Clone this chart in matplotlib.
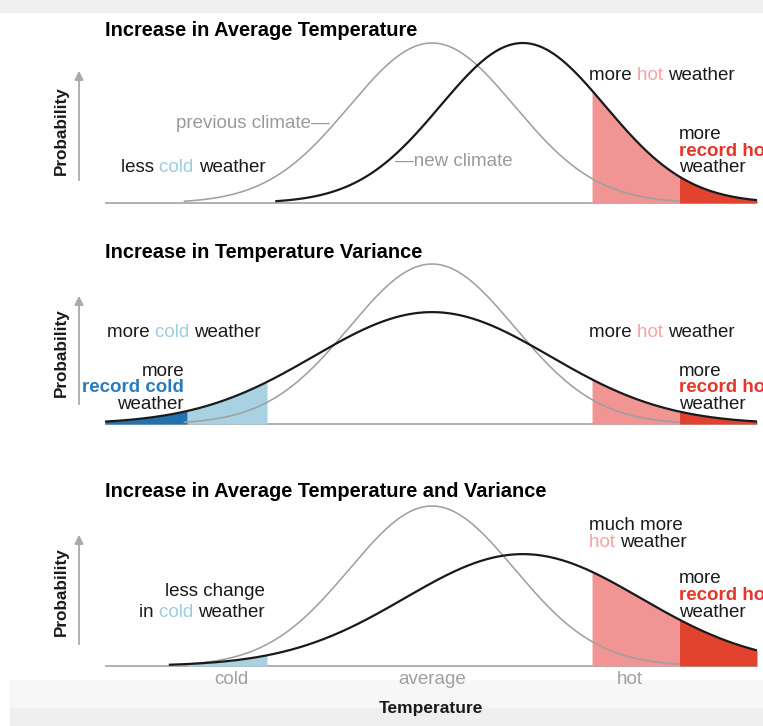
import numpy as np
import matplotlib
matplotlib.use("Agg")
import matplotlib.pyplot as plt
from matplotlib.transforms import IdentityTransform
from matplotlib.patches import Rectangle, FancyArrowPatch

plt.rcParams['font.family'] = ['Liberation Sans', 'DejaVu Sans']

# ---------------- data ----------------
panel_titles = ["Increase in Average Temperature",
                "Increase in Temperature Variance",
                "Increase in Average Temperature and Variance"]
prev_mean = 0.0
prev_sd = 1.0
new_means = [1.1, 0.0, 1.1]
new_sds = [1.0, 1.43, 1.43]
record_cold_thr = -2.97
cold_thr = -2.0
hot_thr = 1.94
record_hot_thr = 3.0
tick_positions = [-2.43, 0.0, 2.4]
tick_labels = ["cold", "average", "hot"]
x_label = "Temperature"
y_label = "Probability"

# ---------------- styling ----------------
W, H = 763, 726
DARK = '#1a1a1a'
GRAY_TXT = '#9a9a9a'
COLD_TXT = '#9ccde0'
HOT_TXT = '#f4a3a3'
REC_HOT_TXT = '#e8352b'
REC_COLD_TXT = '#2b7bbb'
PINK = '#f09494'
RED = '#e2432f'
LBLUE = '#a8d2e2'
DBLUE = '#2271b1'
CURVE_SPAN = 3.0   # curves are drawn over mean +/- 3 sd

fig = plt.figure(figsize=(W / 100, H / 100), dpi=100)
fig.patch.set_facecolor('white')
# background bands
fig.patches.append(Rectangle((0, 1 - 12 / H), 1, 12 / H, transform=fig.transFigure,
                             color='#f0f0f0', zorder=-5))
fig.patches.append(Rectangle((10 / W, 0), 1, (H - 680) / H, transform=fig.transFigure,
                             color='#f7f7f7', zorder=-5))
fig.patches.append(Rectangle((10 / W, 0), 1, (H - 708) / H, transform=fig.transFigure,
                             color='#efefef', zorder=-4))

IDT = IdentityTransform()
renderer = fig.canvas.get_renderer()


def ftext(x, y, s, **kw):
    return fig.text(x, H - y, s, transform=IDT, **kw)


def measure(s, size, weight):
    t = fig.text(0, 0, s, fontsize=size, fontweight=weight, transform=IDT)
    w = t.get_window_extent(renderer).width
    t.remove()
    return w


def rich(x, y, parts, ha='left', size=13, weight='normal'):
    full = ''.join(p[0] for p in parts)
    total = measure(full, size, weight)
    x0 = x if ha == 'left' else x - total
    bar = measure('|', size, weight)
    prefix = ''
    for s, c in parts:
        off = 0 if not prefix else measure(prefix + '|', size, weight) - bar
        ftext(x0 + off, y, s, color=c, fontsize=size, fontweight=weight,
              va='baseline', ha='left')
        prefix += s


def pdf(x, m, s):
    return np.exp(-0.5 * ((x - m) / s) ** 2) / (s * np.sqrt(2 * np.pi))


AX_L, AX_R = 105, 757
PX_PER_SD = 82.5
CENTER_PX = 432
xmin = (AX_L - CENTER_PX) / PX_PER_SD
xmax = (AX_R - CENTER_PX) / PX_PER_SD
k = pdf(0, 0, 1) / 160.0
baselines = [203, 424, 666]
arrows = [(183, 68), (407, 293), (647, 532)]
prob_centers = [131, 353, 592]
title_baselines = [36, 258, 497]

axes = []
for i, base in enumerate(baselines):
    ax = fig.add_axes([AX_L / W, 1 - (base + 5) / H, (AX_R - AX_L) / W, 190 / H])
    ax.set_zorder(2)
    ax.set_xlim(xmin, xmax)
    ax.set_ylim(-5 * k, 185 * k)
    ax.patch.set_alpha(0)
    for sp in ax.spines.values():
        sp.set_visible(False)
    ax.set_yticks([])
    ax.set_xticks([])
    m, s = new_means[i], new_sds[i]
    ax.axhline(0, color='#b0b0b0', lw=1.4, zorder=1)
    # shaded tails under the new climate curve
    regions = [(hot_thr, record_hot_thr, PINK), (record_hot_thr, xmax, RED)]
    if i >= 1:
        regions += [(record_cold_thr, cold_thr, LBLUE)]
    if i == 1:
        regions += [(xmin, record_cold_thr, DBLUE)]
    for a, b, c in regions:
        xx = np.linspace(a, b, 200)
        ax.fill_between(xx, 0, pdf(xx, m, s), color=c, lw=0, zorder=2)
    xp = np.linspace(prev_mean - CURVE_SPAN * prev_sd, prev_mean + CURVE_SPAN * prev_sd, 600)
    ax.plot(xp, pdf(xp, prev_mean, prev_sd), color='#a0a0a0', lw=1.15, zorder=3)
    xn = np.linspace(max(xmin, m - CURVE_SPAN * s), min(xmax, m + CURVE_SPAN * s), 800)
    ax.plot(xn, pdf(xn, m, s), color=DARK, lw=1.6, zorder=4, solid_capstyle='butt')
    axes.append(ax)

    # title, y label, arrow
    ftext(AX_L, title_baselines[i], panel_titles[i], fontsize=14.4, fontweight='bold',
          color='black', va='baseline', ha='left')
    ftext(61, prob_centers[i], y_label, fontsize=12.3, fontweight='bold', color=DARK,
          rotation=90, ha='center', va='center')
    y0, y1 = arrows[i]
    fig.patches.append(FancyArrowPatch((79, H - y0), (79, H - y1), transform=IDT,
                                       arrowstyle='-|>', mutation_scale=13,
                                       color='#aaaaaa', lw=1.3))

# bottom axis labels
axb = axes[-1]
axb.set_xticks(tick_positions)
axb.set_xticklabels(tick_labels, color='#a0a0a0', fontsize=13.5)
axb.tick_params(axis='x', length=0, pad=0)
ftext(431, 709, x_label, fontsize=12.5, fontweight='bold', color=DARK,
      ha='center', va='center')

# ---------------- annotations ----------------
FS = 13.5
# panel 1
ftext(330, 128, "previous climate\u2014", color=GRAY_TXT, fontsize=FS, ha='right', va='baseline')
rich(121, 172.5, [("less ", DARK), ("cold ", COLD_TXT), ("weather", DARK)], size=FS)
ftext(395, 166.5, "\u2014new climate", color=GRAY_TXT, fontsize=FS, ha='left', va='baseline')
rich(589, 80, [("more ", DARK), ("hot ", HOT_TXT), ("weather", DARK)], size=FS)
ftext(679, 139, "more", color=DARK, fontsize=FS, va='baseline')
ftext(679, 156, "record hot", color=REC_HOT_TXT, fontsize=FS, fontweight='bold', va='baseline')
ftext(679, 172, "weather", color=DARK, fontsize=FS, va='baseline')
# panel 2
rich(107, 337, [("more ", DARK), ("cold ", COLD_TXT), ("weather", DARK)], size=FS)
ftext(184, 376, "more", color=DARK, fontsize=FS, ha='right', va='baseline')
ftext(184, 392, "record cold", color=REC_COLD_TXT, fontsize=FS, fontweight='bold', ha='right', va='baseline')
ftext(184, 409, "weather", color=DARK, fontsize=FS, ha='right', va='baseline')
rich(589, 337, [("more ", DARK), ("hot ", HOT_TXT), ("weather", DARK)], size=FS)
ftext(679, 376, "more", color=DARK, fontsize=FS, va='baseline')
ftext(679, 392, "record hot", color=REC_HOT_TXT, fontsize=FS, fontweight='bold', va='baseline')
ftext(679, 409, "weather", color=DARK, fontsize=FS, va='baseline')
# panel 3
ftext(265, 596, "less change", color=DARK, fontsize=FS, ha='right', va='baseline')
rich(265, 617, [("in ", DARK), ("cold ", COLD_TXT), ("weather", DARK)], ha='right', size=FS)
ftext(589, 530, "much more", color=DARK, fontsize=FS, va='baseline')
rich(589, 547, [("hot ", HOT_TXT), ("weather", DARK)], size=FS)
ftext(679, 583, "more", color=DARK, fontsize=FS, va='baseline')
ftext(679, 600, "record hot", color=REC_HOT_TXT, fontsize=FS, fontweight='bold', va='baseline')
ftext(679, 617, "weather", color=DARK, fontsize=FS, va='baseline')

fig.savefig("out.png", dpi=100)
